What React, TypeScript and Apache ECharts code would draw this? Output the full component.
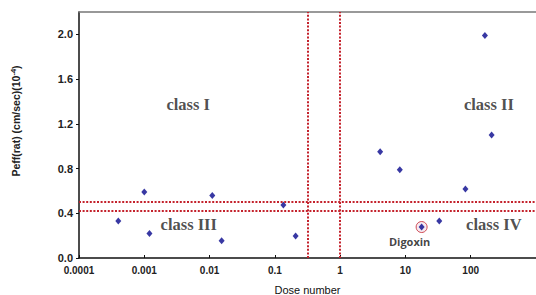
import React, { useEffect, useRef } from "react";
import * as echarts from "echarts";

// Scatter points: [dose number, Peff]
const doseValues = [0.0004, 0.001, 0.0012, 0.011, 0.0153, 0.135, 0.208, 4.1, 8.2, 33, 83, 165, 209];
const peffValues = [0.33, 0.59, 0.22, 0.56, 0.155, 0.473, 0.196, 0.95, 0.79, 0.33, 0.616, 1.99, 1.1];
const digoxin = { name: "Digoxin", dose: 17.7, peff: 0.277 };

const classNames = ["class I", "class II", "class III", "class IV"];
const classDose = [0.0047, 190, 0.0048, 226];
const classPeff = [1.375, 1.375, 0.3, 0.3];

const doseLines = [0.316, 1];
const peffLines = [0.5, 0.42];

const yTicks = [0, 0.4, 0.8, 1.2, 1.6, 2.0];

export default function App() {
  const ref = useRef<HTMLDivElement>(null);
  useEffect(() => {
    if (!ref.current) return;
    const chart = echarts.init(ref.current, null, { renderer: "svg" });
    const dotted = { color: "#c4222c", width: 2, type: [2, 1.6] as any };
    const option: any = {
      animation: false,
      grid: { left: 79, top: 12, right: 0, bottom: 37, outerBoundsMode: "none", containLabel: false },
      xAxis: [
        {
          type: "log",
          logBase: 10,
          min: 0.0001,
          max: 1000,
          name: "Dose number",
          nameLocation: "middle",
          nameGap: 26,
          nameTextStyle: { fontFamily: "Liberation Sans", fontSize: 11, color: "#111" },
          axisLine: { lineStyle: { color: "#111", width: 1.5 } },
          axisTick: { inside: true, length: 3, lineStyle: { color: "#111" } },
          axisLabel: {
            showMaxLabel: false,
            margin: 7,
            fontFamily: "Liberation Sans",
            fontWeight: "bold",
            fontSize: 10,
            color: "#222",
            formatter: (v: number) => (v >= 1 ? String(Math.round(v)) : String(Number(v.toPrecision(1)))),
          },
          splitLine: { show: false },
          minorTick: { show: false },
        },
        {
          type: "log",
          logBase: 10,
          min: 0.0001,
          max: 1000,
          position: "top",
          axisLine: { lineStyle: { color: "#777", width: 1.5 } },
          axisTick: { show: false },
          axisLabel: { show: false },
          splitLine: { show: false },
        },
      ],
      yAxis: {
        type: "value",
        min: 0,
        max: 2.2,
        axisLine: { show: true, lineStyle: { color: "#111", width: 1.5 } },
        axisTick: { show: true, length: 3, customValues: yTicks, lineStyle: { color: "#111" } },
        axisLabel: {
          customValues: yTicks,
          margin: 6,
          fontFamily: "Liberation Sans",
          fontWeight: "bold",
          fontSize: 11,
          color: "#222",
          formatter: (v: number) => v.toFixed(1),
        },
        splitLine: { show: false },
      },
      graphic: [
        {
          type: "text",
          x: 16,
          y: 121,
          rotation: Math.PI / 2,
          style: {
            text: "Peff(rat) (cm/sec)(10{sup|-4})",
            align: "center",
            verticalAlign: "middle",
            fontFamily: "Liberation Sans",
            fontWeight: "bold",
            fontSize: 10.5,
            fill: "#222",
            rich: {
              sup: {
                fontFamily: "Liberation Sans",
                fontWeight: "bold",
                fontSize: 7.5,
                fill: "#222",
                verticalAlign: "top",
                padding: [0, 0, 6, 0],
              },
            },
          },
        },
      ],
      series: [
        {
          type: "scatter",
          symbol: "diamond",
          symbolSize: [6, 7],
          itemStyle: { color: "#06068c" },
          data: doseValues.map((d, i) => [d, peffValues[i]]),
          markLine: {
            silent: true,
            symbol: "none",
            label: { show: false },
            lineStyle: dotted,
            data: [
              ...doseLines.map((d) => ({ xAxis: d })),
              ...peffLines.map((p) => ({ yAxis: p })),
            ],
          },
          z: 3,
        },
        {
          type: "scatter",
          symbol: "circle",
          symbolSize: 11,
          itemStyle: { color: "#f4e4ee", borderColor: "#c4222c", borderWidth: 1 },
          data: [[digoxin.dose, digoxin.peff]],
          z: 2,
        },
        {
          type: "scatter",
          symbol: "diamond",
          symbolSize: [6, 7],
          itemStyle: { color: "#06068c" },
          data: [{ value: [digoxin.dose, digoxin.peff], name: digoxin.name }],
          label: {
            show: true,
            position: "bottom",
            offset: [-12, 0],
            formatter: "{b}",
            fontFamily: "Open Sans",
            fontWeight: "bold",
            fontSize: 11,
            color: "#111",
          },
          z: 4,
        },
        {
          type: "scatter",
          symbolSize: 0,
          silent: true,
          data: classNames.map((n, i) => ({ value: [classDose[i], classPeff[i]], name: n })),
          label: {
            show: true,
            position: "inside",
            formatter: "{b}",
            fontFamily: "Liberation Serif",
            fontWeight: "bold",
            fontSize: 16.5,
            color: "#222",
          },
        },
      ],
    };
    chart.setOption(option);
    return () => chart.dispose();
  }, []);
  return <div ref={ref} style={{ width: 536, height: 295, position: "absolute", left: 0, top: 0, background: "#fff" }} />;
}
